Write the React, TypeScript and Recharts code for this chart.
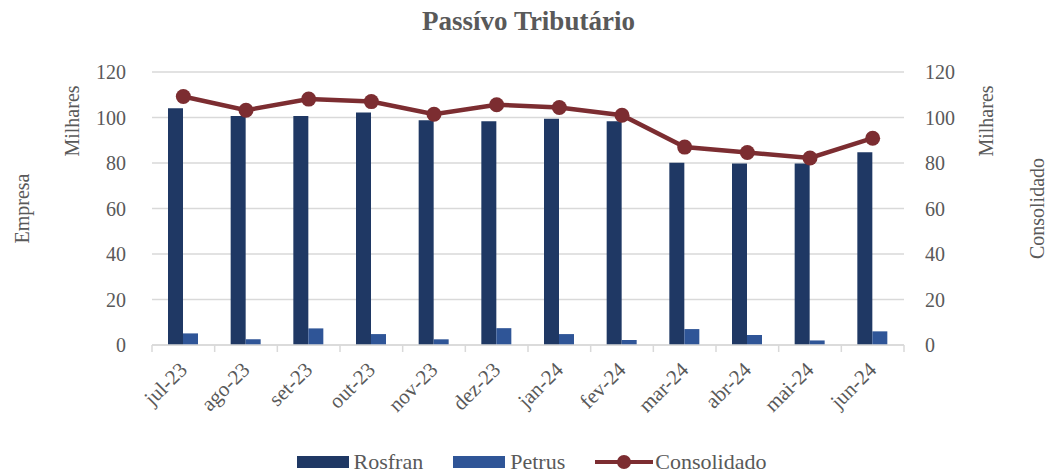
import { ComposedChart, Bar, Line, XAxis, YAxis, CartesianGrid, Legend } from "recharts";

const months = ["jul-23", "ago-23", "set-23", "out-23", "nov-23", "dez-23", "jan-24", "fev-24", "mar-24", "abr-24", "mai-24", "jun-24"];
const rosfran = [104.1, 100.7, 100.7, 102.2, 98.8, 98.4, 99.5, 98.4, 80.1, 79.8, 79.8, 84.7];
const petrus = [5.1, 2.5, 7.3, 4.8, 2.5, 7.4, 4.8, 2.2, 7.0, 4.4, 2.0, 6.0];
const consolidado = [109.2, 103.2, 108.1, 107.0, 101.4, 105.6, 104.4, 101.0, 87.0, 84.6, 82.2, 90.9];
const yTicks = [0, 20, 40, 60, 80, 100, 120];
const legendOrder = ["Rosfran", "Petrus", "Consolidado"];

const data = months.map((m, i) => ({ mes: m, Rosfran: rosfran[i], Petrus: petrus[i], Consolidado: consolidado[i] }));

const W = 1049;
const H = 472;
const LEFT_W = 152;
const RIGHT_W = 145;
const BAND = (W - LEFT_W - RIGHT_W) / months.length;
const FONT = "'Liberation Serif', 'DejaVu Serif', serif";
const TEXT = "#595959";
const GRID = "#D9D9D9";
const C_ROS = "#1F3864";
const C_PET = "#2F5597";
const C_CON = "#7C2D31";

function MonthTick({ x, y, payload, index }: any) {
  const last = index === months.length - 1;
  return (
    <g>
      <line x1={x - BAND / 2} y1={y} x2={x - BAND / 2} y2={y + 7} stroke={GRID} strokeWidth={1.5} />
      {last && <line x1={x + BAND / 2} y1={y} x2={x + BAND / 2} y2={y + 7} stroke={GRID} strokeWidth={1.5} />}
      <text
        x={x + 5}
        y={y + 26}
        textAnchor="end"
        transform={`rotate(-45, ${x + 5}, ${y + 26})`}
        fill={TEXT}
        fontSize={21}
        fontFamily={FONT}
      >
        {payload.value}
      </text>
    </g>
  );
}

function vText(cx: number, cy: number, s: string) {
  return (
    <text
      x={cx}
      y={cy}
      textAnchor="middle"
      dominantBaseline="central"
      transform={`rotate(-90, ${cx}, ${cy})`}
      fill={TEXT}
      fontSize={20}
      fontFamily={FONT}
    >
      {s}
    </text>
  );
}

function LeftTitles({ viewBox }: any) {
  const { x, y, height } = viewBox;
  return (
    <g>
      {vText(x + 22, y + height / 2, "Empresa")}
      {vText(x + 72, y + 49, "Milhares")}
    </g>
  );
}

function RightTitles({ viewBox }: any) {
  const { x, y, height } = viewBox;
  return (
    <g>
      {vText(x + 82, y + 49, "Milhares")}
      {vText(x + 133, y + height / 2, "Consolidado")}
    </g>
  );
}

function LegendBox({ payload }: any) {
  const items = [...(payload || [])].sort(
    (a: any, b: any) => legendOrder.indexOf(a.value) - legendOrder.indexOf(b.value)
  );
  return (
    <div
      style={{
        display: "flex",
        justifyContent: "center",
        alignItems: "center",
        height: 20,
        lineHeight: "20px",
        fontFamily: FONT,
        fontSize: 22,
        color: TEXT,
        paddingLeft: 44,
      }}
    >
      {items.map((e: any) => (
        <div key={e.value} style={{ display: "flex", alignItems: "center", marginRight: 30 }}>
          {e.type === "line" ? (
            <svg width={58} height={16} style={{ marginRight: 2 }}>
              <line x1={0} y1={8} x2={58} y2={8} stroke={C_CON} strokeWidth={4} />
              <circle cx={29} cy={8} r={7} fill={C_CON} />
            </svg>
          ) : (
            <span style={{ display: "inline-block", width: 52, height: 12, background: e.color, marginRight: 5 }} />
          )}
          <span>{e.value}</span>
        </div>
      ))}
    </div>
  );
}

export default function App() {
  return (
    <div style={{ position: "absolute", left: 0, top: 0, width: W, height: H, background: "#fff" }}>
      <div
        style={{
          position: "absolute",
          top: 8,
          left: 0,
          width: W,
          textAlign: "center",
          fontFamily: FONT,
          fontWeight: "bold",
          fontSize: 27,
          lineHeight: "27px",
          color: TEXT,
          paddingLeft: 4,
        }}
      >
        Passívo Tributário
      </div>
      <ComposedChart width={W} height={H} data={data} margin={{ top: 72, right: 0, left: 0, bottom: 0 }} barGap={0}>
        <CartesianGrid vertical={false} stroke={GRID} strokeWidth={1.5} yAxisId="left" />
        <XAxis
          dataKey="mes"
          stroke={GRID}
          strokeWidth={1.5}
          tickLine={false}
          tickSize={0}
          tickMargin={0}
          interval={0}
          height={107}
          tick={<MonthTick />}
        />
        <YAxis
          yAxisId="left"
          domain={[0, 120]}
          ticks={yTicks}
          width={LEFT_W}
          axisLine={false}
          tickLine={false}
          tickSize={0}
          tickMargin={26}
          tick={{ fill: TEXT, fontSize: 20, fontFamily: FONT }}
          label={(p: any) => <LeftTitles viewBox={p.viewBox} />}
        />
        <YAxis
          yAxisId="right"
          orientation="right"
          domain={[0, 120]}
          ticks={yTicks}
          width={RIGHT_W}
          axisLine={false}
          tickLine={false}
          tickSize={0}
          tickMargin={21}
          tick={{ fill: TEXT, fontSize: 20, fontFamily: FONT, textAnchor: "start" }}
          label={(p: any) => <RightTitles viewBox={p.viewBox} />}
        />
        <Legend verticalAlign="bottom" content={<LegendBox />} />
        <Bar yAxisId="left" dataKey="Rosfran" fill={C_ROS} barSize={15} isAnimationActive={false} />
        <Bar yAxisId="left" dataKey="Petrus" fill={C_PET} barSize={15} isAnimationActive={false} />
        <Line
          yAxisId="right"
          dataKey="Consolidado"
          stroke={C_CON}
          strokeWidth={4.5}
          dot={{ r: 7.5, fill: C_CON, stroke: C_CON, strokeWidth: 0 }}
          activeDot={false}
          isAnimationActive={false}
        />
      </ComposedChart>
    </div>
  );
}
